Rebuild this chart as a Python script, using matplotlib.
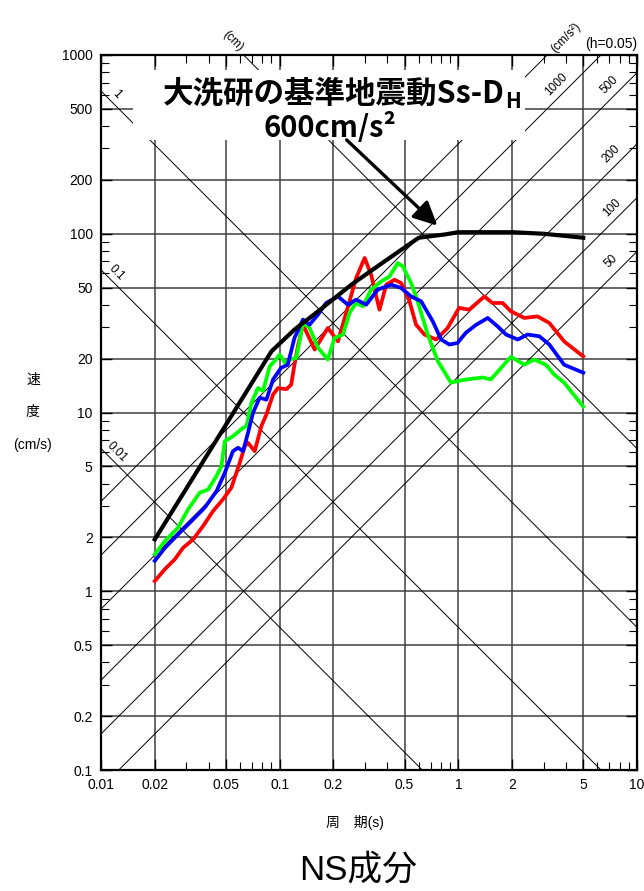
import numpy as np
import matplotlib
matplotlib.use('Agg')
import matplotlib.pyplot as plt
from matplotlib.ticker import FixedLocator, LogLocator, NullFormatter
from matplotlib.patches import Rectangle

plt.rcParams['font.family'] = ['Liberation Sans', 'Noto Sans CJK JP']

# velocity response spectra (h=0.05), period in s, velocity in cm/s
ss_T = [0.02, 0.09, 0.121, 0.164, 0.252, 0.386, 0.60, 0.835, 1.0, 2.0, 3.0, 5.0]
ss_SV = [1.95, 22.0, 29.1, 36.8, 51.9, 70.0, 95.0, 99.0, 102, 102, 100, 95]

red_T = [0.020, 0.0228, 0.0259, 0.0288, 0.0328, 0.0373, 0.0424, 0.0482, 0.0537, 0.0598,
         0.0638, 0.0665, 0.0725, 0.0790, 0.0843, 0.0918, 0.0978, 0.109, 0.116, 0.121,
         0.127, 0.135, 0.157, 0.186, 0.212, 0.246, 0.268, 0.299, 0.325, 0.362,
         0.395, 0.439, 0.479, 0.533, 0.580, 0.646, 0.751, 0.871, 1.01, 1.15,
         1.40, 1.55, 1.77, 1.97, 2.34, 2.77, 3.23, 3.91, 5.0]
red_SV = [1.14, 1.33, 1.51, 1.75, 1.95, 2.32, 2.81, 3.27, 3.80, 5.24,
          6.48, 6.77, 6.08, 8.39, 9.75, 12.6, 13.7, 13.5, 14.3, 18.5,
          24.0, 31.0, 22.5, 29.7, 25.0, 41.9, 56.6, 73.2, 59.0, 37.6,
          51.9, 55.3, 53.0, 41.9, 31.0, 27.3, 25.6, 29.7, 38.5, 37.6,
          44.6, 41.0, 41.0, 36.8, 33.8, 34.5, 31.7, 25.0, 20.6]

blue_T = [0.020, 0.0228, 0.0270, 0.0321, 0.0381, 0.0443, 0.0493, 0.0548, 0.0585, 0.0624,
          0.0665, 0.0709, 0.0773, 0.0843, 0.0918, 0.102, 0.111, 0.121, 0.135, 0.147,
          0.164, 0.182, 0.212, 0.241, 0.268, 0.305, 0.354, 0.421, 0.479, 0.544,
          0.619, 0.719, 0.801, 0.891, 0.99, 1.10, 1.26, 1.46, 1.66, 1.85,
          2.15, 2.44, 2.84, 3.23, 3.91, 5.0]
blue_SV = [1.48, 1.75, 2.08, 2.47, 2.94, 3.63, 4.60, 6.08, 6.35, 6.08,
           7.70, 9.96, 12.1, 11.8, 15.3, 17.8, 18.5, 26.1, 33.1, 31.0,
           35.3, 41.0, 44.6, 40.1, 42.8, 40.1, 48.7, 51.9, 49.7, 44.6,
           41.9, 32.4, 25.6, 24.0, 24.5, 27.9, 31.0, 33.8, 30.3, 27.3,
           25.6, 27.3, 26.7, 24.0, 18.5, 16.7]

green_T = [0.020, 0.0228, 0.0270, 0.0307, 0.0357, 0.0398, 0.0443, 0.0472, 0.0493, 0.0548,
           0.0624, 0.0652, 0.0695, 0.0756, 0.0807, 0.0879, 0.0938, 0.100, 0.107, 0.114,
           0.124, 0.135, 0.147, 0.164, 0.186, 0.203, 0.226, 0.246, 0.268, 0.292,
           0.325, 0.370, 0.412, 0.458, 0.489, 0.544, 0.592, 0.674, 0.767, 0.91,
           1.10, 1.37, 1.52, 1.97, 2.34, 2.66, 3.09, 3.44, 3.91, 5.0]
green_SV = [1.61, 1.91, 2.27, 2.87, 3.56, 3.71, 4.41, 5.01, 6.91, 7.37,
            8.21, 8.39, 11.3, 13.7, 13.2, 18.1, 19.4, 21.1, 19.0, 19.8,
            20.2, 31.7, 29.7, 23.0, 19.8, 26.1, 27.3, 36.1, 41.0, 39.3,
            48.7, 54.1, 57.7, 68.6, 65.7, 53.0, 41.9, 27.3, 19.4, 14.7,
            15.3, 15.7, 15.3, 20.5, 18.5, 19.8, 18.5, 16.3, 14.7, 10.8]

# tripartite guide lines
disp_lines = [0.01, 0.1, 1, 10]          # cm
disp_labels = ['0.01', '0.1', '1', '']
acc_lines = [50, 100, 200, 500, 1000, 2000]   # cm/s2
acc_labels = ['50', '100', '200', '500', '1000', '']

xticks = [0.01, 0.02, 0.05, 0.1, 0.2, 0.5, 1, 2, 5, 10]
xticklabels = ['0.01', '0.02', '0.05', '0.1', '0.2', '0.5', '1', '2', '5', '10']
yticks = [0.1, 0.2, 0.5, 1, 2, 5, 10, 20, 50, 100, 200, 500, 1000]
yticklabels = ['0.1', '0.2', '0.5', '1', '2', '5', '10', '20', '50', '100', '200', '500', '1000']

W, H = 644, 891


def fx(x):
    return x / W


def fy(y):
    return 1 - y / H


fig = plt.figure(figsize=(W / 100, H / 100), dpi=100)
ax = fig.add_axes([fx(101), fy(770), 536 / W, 715 / H])
ax.set_xscale('log')
ax.set_yscale('log')

for v in xticks[1:-1]:
    ax.axvline(v, color='#404040', lw=1.1, zorder=1)
for v in yticks[1:-1]:
    ax.axhline(v, color='#404040', lw=1.1, zorder=1)

tt = np.array([0.005, 20.0])
for d, lab in zip(disp_lines, disp_labels):
    ax.plot(tt, 2 * np.pi * d / tt, color='k', lw=0.7, zorder=1)
    if lab:
        t = 0.0122
        ax.text(t, 2 * np.pi * d / t * 1.17, lab, rotation=-45, ha='center', va='center',
                fontsize=8.5)
for a, lab in zip(acc_lines, acc_labels):
    ax.plot(tt, a * tt / (2 * np.pi), color='k', lw=0.7, zorder=1)
    if lab:
        t = min(7.2, 2 * np.pi * 560 / a)
        ax.text(t, a * t / (2 * np.pi) * 1.22, lab, rotation=45, ha='center', va='center',
                fontsize=8.5)

# white panel behind the title
ax.add_patch(Rectangle((32 / 536, 1 - 140 / 715 + 55 / 715), 392 / 536, 70 / 715,
                       transform=ax.transAxes, fc='white', ec='none', zorder=2))

ax.plot(red_T, red_SV, color='#ff0000', lw=2.7, zorder=3)
ax.plot(green_T, green_SV, color='#00ff00', lw=2.7, zorder=3)
ax.plot(blue_T, blue_SV, color='#0000ff', lw=2.7, zorder=3)
ax.plot(ss_T, ss_SV, color='k', lw=3.0, zorder=3)

ax.annotate('', xy=(0.763, 111), xytext=(0.237, 335),
            arrowprops=dict(arrowstyle='-|>,head_length=0.45,head_width=0.22',
                            lw=2.4, color='k', mutation_scale=32,
                            shrinkA=0, shrinkB=0), zorder=4)

ax.set_xlim(0.01, 10)
ax.set_ylim(0.1, 1000)
ax.xaxis.set_major_locator(FixedLocator(xticks))
ax.set_xticklabels(xticklabels)
ax.yaxis.set_major_locator(FixedLocator(yticks))
ax.set_yticklabels(yticklabels)
ax.xaxis.set_minor_locator(LogLocator(base=10, subs=(3, 4, 6, 7, 8, 9), numticks=20))
ax.yaxis.set_minor_locator(LogLocator(base=10, subs=(3, 4, 6, 7, 8, 9), numticks=20))
ax.xaxis.set_minor_formatter(NullFormatter())
ax.yaxis.set_minor_formatter(NullFormatter())
ax.tick_params(which='both', direction='in', top=True, right=True)
ax.tick_params(which='major', length=8, width=1, labelsize=10, pad=6)
ax.tick_params(which='minor', length=6, width=0.8)
for s in ax.spines.values():
    s.set_linewidth(1.6)

title_font = ['Noto Sans CJK JP']
fig.text(fx(505), fy(94), '大洗研の基準地震動Ss-D', family=title_font, fontweight='bold',
         fontsize=22, ha='right', va='center')
fig.text(fx(505), fy(102), 'H', family=title_font, fontweight='bold',
         fontsize=15, ha='left', va='center')
fig.text(fx(330), fy(127), '600cm/s²', family=title_font, fontweight='bold',
         fontsize=21, ha='center', va='center')

fig.text(fx(233), fy(41), '(cm)', rotation=-45, fontsize=8.5, ha='center', va='center')
fig.text(fx(566), fy(37), '(cm/s²)', rotation=45, fontsize=8.5, ha='center', va='center')
fig.text(fx(637), fy(44), '(h=0.05)', fontsize=10, ha='right', va='center')

fig.text(fx(33), fy(380), '速', fontsize=10, ha='center', va='center')
fig.text(fx(33), fy(412), '度', fontsize=10, ha='center', va='center')
fig.text(fx(33), fy(445), '(cm/s)', fontsize=10, ha='center', va='center')
fig.text(fx(355), fy(823), '周　期(s)', fontsize=10, ha='center', va='center')
fig.text(fx(358), fy(870), 'NS成分', fontsize=25, ha='center', va='center')

fig.savefig('out.png', dpi=100)
